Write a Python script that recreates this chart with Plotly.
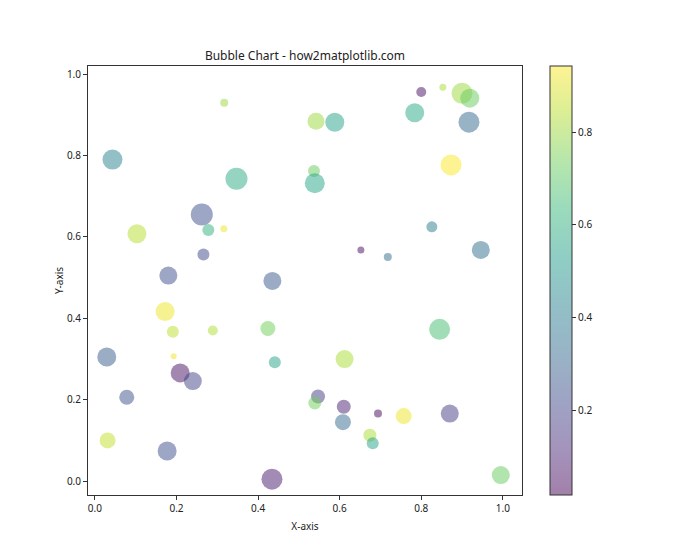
import plotly.graph_objects as go
import plotly.colors as pc

x_vals = [0.317, 0.043, 0.347, 0.262, 0.278, 0.316, 0.103, 0.266, 0.180, 0.435,
          0.800, 0.853, 0.900, 0.919, 0.784, 0.542, 0.588, 0.917, 0.537, 0.539,
          0.873, 0.826, 0.652, 0.718, 0.946,
          0.172, 0.191, 0.289, 0.424, 0.029, 0.193, 0.441, 0.209, 0.240, 0.078,
          0.031, 0.177, 0.434,
          0.845, 0.612, 0.547, 0.539, 0.610, 0.694, 0.757, 0.870, 0.608, 0.674,
          0.681, 0.995]
y_vals = [0.930, 0.790, 0.743, 0.655, 0.617, 0.620, 0.608, 0.557, 0.505, 0.492,
          0.956, 0.968, 0.953, 0.941, 0.905, 0.884, 0.882, 0.882, 0.762, 0.732,
          0.777, 0.625, 0.568, 0.551, 0.568,
          0.417, 0.367, 0.370, 0.375, 0.305, 0.307, 0.292, 0.266, 0.246, 0.206,
          0.100, 0.074, 0.005,
          0.373, 0.300, 0.208, 0.192, 0.183, 0.166, 0.160, 0.166, 0.145, 0.113,
          0.093, 0.015]
color_vals = [0.80, 0.42, 0.58, 0.24, 0.60, 0.92, 0.84, 0.22, 0.24, 0.27,
              0.05, 0.82, 0.80, 0.72, 0.57, 0.80, 0.55, 0.32, 0.72, 0.56,
              0.94, 0.40, 0.04, 0.35, 0.35,
              0.92, 0.85, 0.83, 0.74, 0.28, 0.92, 0.55, 0.06, 0.20, 0.25,
              0.86, 0.24, 0.08,
              0.66, 0.82, 0.18, 0.74, 0.10, 0.03, 0.92, 0.18, 0.33, 0.82,
              0.55, 0.72]
sizes = [8, 20, 22, 22, 12, 7, 19, 12, 18, 18,
         10, 7, 21, 19, 19, 17, 19, 21, 12, 20,
         21, 11, 7, 8, 18,
         19, 12, 10, 15, 19, 6, 12, 19, 18, 15,
         16, 19, 21,
         21, 18, 14, 13, 14, 8, 16, 18, 16, 13,
         12, 18]
x_ticks = [0.0, 0.2, 0.4, 0.6, 0.8, 1.0]
y_ticks = [0.0, 0.2, 0.4, 0.6, 0.8, 1.0]
cbar_ticks = [0.2, 0.4, 0.6, 0.8]

CMIN, CMAX = 0.019, 0.942

# faded viridis for the colorbar (alpha 0.5 over white)
vir = pc.sequential.Viridis
faded = []
for i, c in enumerate(vir):
    r, g, b = pc.hex_to_rgb(c)
    faded.append([i / (len(vir) - 1), f"rgb({(r+255)/2:.0f},{(g+255)/2:.0f},{(b+255)/2:.0f})"])

font = "Noto Sans"
fig = go.Figure()
fig.add_trace(go.Scatter(
    x=x_vals, y=y_vals, mode="markers",
    marker=dict(size=sizes, color=color_vals, colorscale="Viridis", cmin=CMIN, cmax=CMAX,
                opacity=0.5, line=dict(width=0), showscale=False),
    hoverinfo="skip", showlegend=False))
fig.add_trace(go.Scatter(
    x=x_vals, y=y_vals, mode="markers",
    marker=dict(size=sizes, color=color_vals, colorscale=faded, cmin=CMIN, cmax=CMAX,
                opacity=0, showscale=True,
                colorbar=dict(x=(550 - 88) / 434, xanchor="left", y=0.5, yanchor="middle",
                              len=1, lenmode="fraction", thickness=22, thicknessmode="pixels",
                              outlinewidth=1, outlinecolor="#333", tickvals=cbar_ticks,
                              ticktext=[f"{t:.1f}" for t in cbar_ticks],
                              ticks="outside", ticklen=4, tickcolor="#333",
                              tickfont=dict(size=10, color="#222", family=font),
                              xpad=0, ypad=0)),
    hoverinfo="skip", showlegend=False))

axis_common = dict(showgrid=False, zeroline=False, showline=True, linecolor="#333", linewidth=1,
                   mirror=True, ticks="outside", ticklen=4, tickcolor="#333",
                   tickfont=dict(size=10, color="#222", family=font))
fig.update_layout(
    width=700, height=560,
    margin=dict(l=88, r=178, t=66, b=65),
    paper_bgcolor="white", plot_bgcolor="white",
    title=dict(text="Bubble Chart - how2matplotlib.com", x=(88 + 522) / 2 / 700, xanchor="center",
               y=1 - 56 / 560, yanchor="middle", font=dict(size=12, color="#222", family=font)),
    xaxis=dict(range=[-0.017, 1.047], tickvals=x_ticks, ticktext=[f"{t:.1f}" for t in x_ticks],
               title=dict(text="X-axis", font=dict(size=10, color="#222", family=font), standoff=8),
               **axis_common),
    yaxis=dict(range=[-0.034, 1.020], tickvals=y_ticks, ticktext=[f"{t:.1f}" for t in y_ticks],
               title=dict(text="Y-axis", font=dict(size=10, color="#222", family=font), standoff=1),
               **axis_common),
)
fig.write_html("out.html")
